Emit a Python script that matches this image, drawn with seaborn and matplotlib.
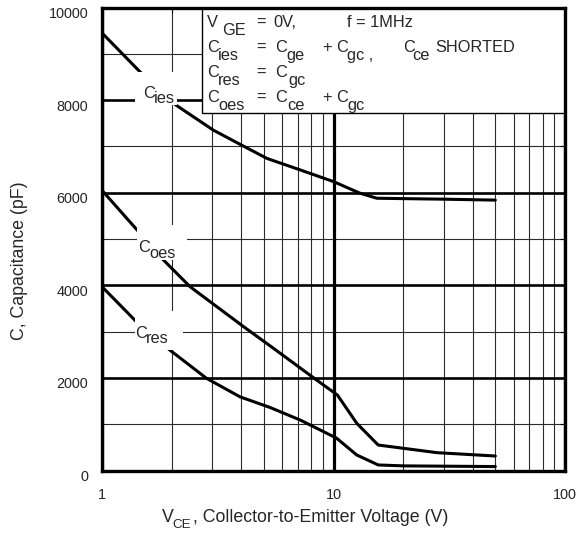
import numpy as np
import pandas as pd
import matplotlib
matplotlib.use('Agg')
import matplotlib.pyplot as plt
import matplotlib.ticker as mticker
import matplotlib.transforms as mtransforms
from matplotlib.patches import Rectangle
import seaborn as sns

# values
vce_ies = [1, 1.46, 2.09, 3.03, 4.0, 5.16, 7.2, 10, 13, 15.4, 30, 50]
c_ies = [9450, 8610, 7890, 7350, 7030, 6740, 6490, 6240, 5990, 5880, 5860, 5840]

vce_oes = [1, 1.48, 1.84, 2.4, 4.08, 5.5, 8.45, 10.4, 12.6, 15.6, 20, 28, 50]
c_oes = [6050, 5090, 4550, 3970, 3110, 2640, 1955, 1630, 1020, 550, 480, 385, 313]

vce_res = [1, 1.41, 1.84, 2.83, 3.95, 5.33, 7.18, 10.3, 12.6, 15.6, 20, 50]
c_res = [3970, 3210, 2710, 1990, 1590, 1360, 1090, 700, 335, 120, 100, 85]

x_major = [1, 10, 100]
x_labels = ['1', '10', '100']
y_major = [0, 2000, 4000, 6000, 8000, 10000]

df = pd.concat([
    pd.DataFrame({'vce': vce_ies, 'cap': c_ies, 'curve': 'ies'}),
    pd.DataFrame({'vce': vce_oes, 'cap': c_oes, 'curve': 'oes'}),
    pd.DataFrame({'vce': vce_res, 'cap': c_res, 'curve': 'res'}),
])

sns.set_style('white')
plt.rcParams['font.family'] = ['Liberation Sans', 'DejaVu Sans']

W, H = 579, 539
L, R, T, B = 102, 565, 7.5, 470.5

fig = plt.figure(figsize=(W / 100, H / 100), dpi=100)
ax = fig.add_axes([L / W, 1 - B / H, (R - L) / W, (B - T) / H])


def px(x, y):
    # pixel position in the picture -> axes fraction
    return ((x - L) / (R - L), (B - y) / (B - T))


def put(x, y, s, size):
    ax.text(*px(x, y), s, transform=ax.transAxes, fontsize=size,
            ha='left', va='baseline', zorder=6, clip_on=False)


sns.lineplot(data=df, x='vce', y='cap', hue='curve', units='curve',
             palette={'ies': 'black', 'oes': 'black', 'res': 'black'},
             estimator=None, sort=False, legend=False, lw=2.2, ax=ax, zorder=3)

ax.set_xscale('log')
ax.set_xlim(1, 100)
ax.set_ylim(0, 10000)
ax.set_xticks(x_major, labels=x_labels)
ax.xaxis.set_minor_locator(mticker.LogLocator(base=10, subs=np.arange(2, 10)))
ax.xaxis.set_minor_formatter(mticker.NullFormatter())
ax.set_yticks(y_major, labels=[str(v) for v in y_major])
ax.yaxis.set_minor_locator(mticker.MultipleLocator(1000))

# grid drawn by hand so the info box can hide it but not the ticks
for v in ax.xaxis.get_minorticklocs():
    if 1 < v < 100:
        ax.axvline(v, color='#2a2a2a', lw=0.8, zorder=0.5)
for v in x_major:
    ax.axvline(v, color='black', lw=2.3, zorder=0.6)
for v in np.arange(1000, 10000, 2000):
    ax.axhline(v, color='#2a2a2a', lw=0.8, zorder=0.5)
for v in y_major:
    ax.axhline(v, color='black', lw=1.9, zorder=0.6)

ax.tick_params(which='both', direction='in', top=True, right=True,
               length=3.6, width=0.8, color='black')
ax.tick_params(axis='y', labelsize=10.4, pad=10)
ax.tick_params(axis='x', labelsize=10.4, pad=12.5)
for s in ax.spines.values():
    s.set_linewidth(2.4)
    s.set_color('black')
    s.set_zorder(7)

offset = mtransforms.ScaledTranslation(0, -3.6 / 72, fig.dpi_scale_trans)
for lab in ax.get_yticklabels():
    lab.set_transform(lab.get_transform() + offset)

# axis titles (subscript drawn as its own piece, as in the original)
ax.set_xlabel('')
put(161.7, 521.7, 'V', 12.8)
put(172, 528, 'CE', 9.6)
put(193, 521.7, ', Collector-to-Emitter Voltage (V)', 12.8)
ax.set_ylabel('C, Capacitance (pF)', fontsize=12.8)
ax.yaxis.set_label_coords(*px(28, 260.5))

# info box in the upper right
x0, y0 = px(201.7, 113)
ax.add_patch(Rectangle((x0, y0), 1 - x0, 1 - y0, transform=ax.transAxes,
                       facecolor='white', edgecolor='black', lw=1.0, zorder=2))

box_lines = [
    (27, [(206.7, 'V', 0), (221.7, 'GE', 1), (256.7, '=', 0), (273, '0V,', 0), (346.7, 'f = 1MHz', 0)]),
    (52, [(206.7, 'C', 0), (218, 'ies', 1), (256.7, '=', 0), (275, 'C', 0), (286.7, 'ge', 1),
          (323.3, '+ C', 0), (346.7, 'gc ,', 1), (403.3, 'C', 0), (412.7, 'ce', 1), (435, 'SHORTED', 0)]),
    (77, [(206.7, 'C', 0), (218, 'res', 1), (256.7, '=', 0), (275, 'C', 0), (288, 'gc', 1)]),
    (102, [(206.7, 'C', 0), (218, 'oes', 1), (256.7, '=', 0), (275, 'C', 0), (287, 'ce', 1),
           (323.3, '+ C', 0), (347, 'gc', 1)]),
]
for base, parts in box_lines:
    for xp, s, sub in parts:
        put(xp, base + 8 * sub, s, 11.8)

# curve labels with a white patch behind them
curve_labels = [
    # patch x0, x1, y0, y1, C x, baseline, sub x, sub baseline, sub text
    (135, 177, 72, 105, 143, 98, 153.5, 103, 'ies'),
    (137, 187, 225, 260, 138, 252, 149, 258, 'oes'),
    (135, 183, 311, 350, 135, 338, 146, 343, 'res'),
]
for xa, xb, ya, yb, cx, cb, sx, sb, sub in curve_labels:
    pa = px(xa, yb)
    pb = px(xb, ya)
    ax.add_patch(Rectangle(pa, pb[0] - pa[0], pb[1] - pa[1], transform=ax.transAxes,
                           facecolor='white', edgecolor='none', zorder=4))
    put(cx, cb, 'C', 11.8)
    put(sx, sb, sub, 11.8)

fig.savefig('out.png', dpi=100)
